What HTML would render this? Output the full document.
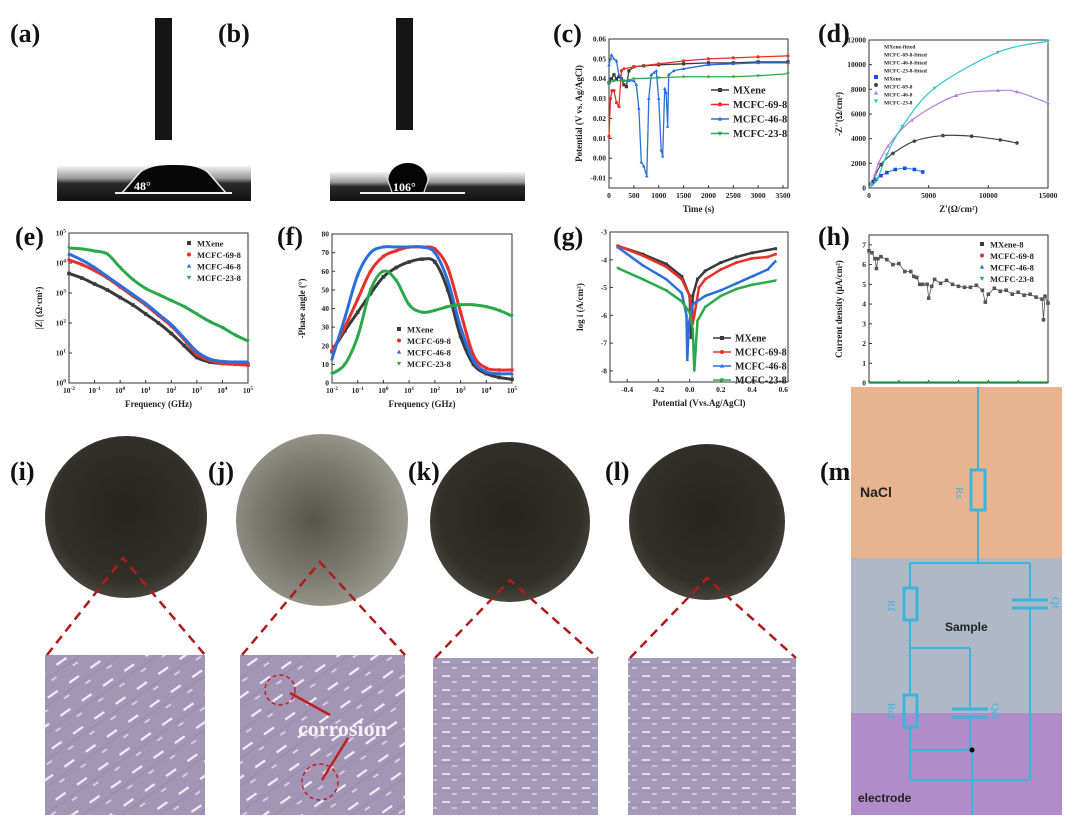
<!DOCTYPE html>
<html><head><meta charset="utf-8"><style>
html,body{margin:0;padding:0;background:#fff;}
svg{display:block;font-family:"Liberation Serif",serif;}
.pl{font:bold 26px "Liberation Serif",serif;fill:#111}
.tk{font:bold 7.5px "Liberation Serif",serif;fill:#222}
.at{font:bold 9px "Liberation Serif",serif;fill:#222}
</style></head><body>
<svg id="fig" width="1080" height="827" viewBox="0 0 1080 827">
<defs>
<pattern id="micro" width="26" height="22" patternUnits="userSpaceOnUse" patternTransform="rotate(-35)">
<rect width="26" height="22" fill="#a395b6"/>
<line x1="3" y1="5" x2="15" y2="5" stroke="#f4eefa" stroke-width="2.2"/>
<line x1="16" y1="15" x2="22" y2="15" stroke="#e6dcf0" stroke-width="1.5"/>
<line x1="0" y1="11" x2="26" y2="11" stroke="#978aa9" stroke-width="1"/>
</pattern>
<pattern id="micro2" width="20" height="14" patternUnits="userSpaceOnUse">
<rect width="20" height="14" fill="#a699b8"/>
<line x1="2" y1="4" x2="10" y2="4" stroke="#f4eefa" stroke-width="1.5"/>
<line x1="12" y1="10" x2="17" y2="10" stroke="#e6dcf0" stroke-width="1.2"/>
<line x1="0" y1="7" x2="20" y2="7" stroke="#9a8dab" stroke-width="0.8"/>
</pattern>
<radialGradient id="dark" cx="50%" cy="45%" r="55%"><stop offset="0" stop-color="#25251e"/><stop offset="0.8" stop-color="#303028"/><stop offset="1" stop-color="#45453c"/></radialGradient>
<radialGradient id="grey" cx="45%" cy="50%" r="55%"><stop offset="0" stop-color="#55554b"/><stop offset="0.6" stop-color="#7a7a70"/><stop offset="1" stop-color="#9a9a90"/></radialGradient>
<linearGradient id="strip" x1="0" y1="0" x2="0" y2="1"><stop offset="0" stop-color="#f4f4f4"/><stop offset="0.35" stop-color="#9a9a9a"/><stop offset="0.5" stop-color="#2a2a2a"/><stop offset="1" stop-color="#111"/></linearGradient>
</defs>

<text class="pl" x="10" y="42">(a)</text>
<text class="pl" x="218" y="42">(b)</text>
<text class="pl" x="553" y="42">(c)</text>
<text class="pl" x="818" y="42">(d)</text>
<text class="pl" x="15" y="245">(e)</text>
<text class="pl" x="277" y="245">(f)</text>
<text class="pl" x="553" y="245">(g)</text>
<text class="pl" x="818" y="245">(h)</text>
<text class="pl" x="10" y="480">(i)</text>
<text class="pl" x="208" y="480">(j)</text>
<text class="pl" x="408" y="480">(k)</text>
<text class="pl" x="605" y="480">(l)</text>
<text class="pl" x="820" y="480">(m)</text>

<g>
<rect x="155" y="18" width="17" height="122" fill="#151515"/>
<rect x="57" y="166" width="194" height="35" fill="url(#strip)"/>
<path d="M122,193 C140,168 150,165 174,165 C198,165 208,168 226,193 Z" fill="#080808"/>
<line x1="122" y1="193" x2="142" y2="170" stroke="#eee" stroke-width="1.5"/>
<line x1="226" y1="193" x2="206" y2="170" stroke="#eee" stroke-width="1.5"/>
<line x1="115" y1="193" x2="232" y2="193" stroke="#eee" stroke-width="2"/>
<text x="134" y="190" fill="#fff" font-size="12" font-weight="bold">48°</text>
</g>
<g>
<rect x="396" y="18" width="17" height="112" fill="#151515"/>
<rect x="330" y="172" width="195" height="29" fill="url(#strip)"/>
<path d="M392,192 C383,178 392,163 408,163 C424,163 432,178 424,192 Z" fill="#050505"/>
<line x1="392" y1="192" x2="386" y2="175" stroke="#ddd" stroke-width="1.2"/>
<line x1="424" y1="192" x2="430" y2="175" stroke="#ddd" stroke-width="1.2"/>
<line x1="360" y1="193" x2="465" y2="193" stroke="#eee" stroke-width="2"/>
<text x="393" y="191" fill="#fff" font-size="12" font-weight="bold">106°</text>
</g>

<g id="charts"></g>

<g>
<circle cx="126" cy="517" r="81" fill="url(#dark)"/>
<circle cx="322" cy="520" r="86" fill="url(#grey)"/>
<circle cx="510" cy="522" r="80" fill="url(#dark)"/>
<circle cx="707" cy="522" r="78" fill="url(#dark)"/>
<rect x="45" y="655" width="160" height="160" fill="url(#micro)"/>
<rect x="240" y="655" width="165" height="160" fill="url(#micro)"/>
<rect x="433" y="658" width="165" height="157" fill="url(#micro2)"/>
<rect x="628" y="658" width="168" height="157" fill="url(#micro2)"/>
<g stroke="#b01a1a" stroke-width="2.5" stroke-dasharray="9,6" fill="none">
<path d="M47,655 L123,558 L205,655"/>
<path d="M242,655 L320,562 L405,655"/>
<path d="M435,658 L510,580 L598,658"/>
<path d="M630,658 L707,578 L796,658"/>
</g>
<circle cx="280" cy="690" r="15" fill="none" stroke="#c02020" stroke-width="1.5" stroke-dasharray="4,3"/>
<circle cx="320" cy="782" r="18" fill="none" stroke="#c02020" stroke-width="1.5" stroke-dasharray="4,3"/>
<line x1="330" y1="715" x2="290" y2="693" stroke="#c02020" stroke-width="2.5"/>
<line x1="348" y1="738" x2="322" y2="780" stroke="#c02020" stroke-width="2.5"/>
<text x="298" y="736" fill="#f5f0f8" font-size="22" font-weight="bold">corrosion</text>
</g>

<g>
<rect x="851" y="387" width="211" height="171" fill="#e8b48f"/>
<rect x="851" y="558" width="211" height="155" fill="#aeb8c6"/>
<rect x="851" y="713" width="211" height="102" fill="#b08ccb"/>
<text x="860" y="497" font-family="Liberation Sans" font-weight="bold" font-size="14" fill="#222">NaCl</text>
<text x="945" y="631" font-family="Liberation Sans" font-weight="bold" font-size="12" fill="#222">Sample</text>
<text x="858" y="802" font-family="Liberation Sans" font-weight="bold" font-size="12" fill="#222">electrode</text>
<g stroke="#3bb5dc" stroke-width="2" fill="none">
<line x1="978" y1="387" x2="978" y2="470"/>
<rect x="971" y="470" width="14" height="40" stroke-width="3"/>
<line x1="978" y1="510" x2="978" y2="563"/>
<line x1="910" y1="563" x2="1030" y2="563"/>
<line x1="910" y1="563" x2="910" y2="588"/>
<rect x="904" y="588" width="13" height="32" stroke-width="3"/>
<line x1="910" y1="620" x2="910" y2="695"/>
<line x1="1030" y1="563" x2="1030" y2="598"/>
<line x1="1012" y1="600" x2="1048" y2="600" stroke-width="3"/>
<line x1="1012" y1="608" x2="1048" y2="608" stroke-width="3"/>
<line x1="1030" y1="608" x2="1030" y2="780"/>
<line x1="910" y1="648" x2="970" y2="648"/>
<line x1="970" y1="648" x2="970" y2="707"/>
<line x1="952" y1="709" x2="988" y2="709" stroke-width="3"/>
<line x1="952" y1="717" x2="988" y2="717" stroke-width="3"/>
<line x1="970" y1="717" x2="970" y2="750"/>
<rect x="904" y="695" width="13" height="32" stroke-width="3"/>
<line x1="910" y1="727" x2="910" y2="750"/>
<line x1="910" y1="750" x2="970" y2="750"/>
<line x1="910" y1="780" x2="1030" y2="780"/>
<line x1="910" y1="750" x2="910" y2="780"/>
<line x1="972" y1="750" x2="972" y2="815"/>
</g>
<circle cx="972" cy="750" r="2.5" fill="#000"/>
<text x="956" y="487" fill="#3bb5dc" font-size="11" transform="rotate(90 956 487)">Rs</text>
<text x="888" y="600" fill="#3bb5dc" font-size="11" transform="rotate(90 888 600)">Rf</text>
<text x="1052" y="597" fill="#3bb5dc" font-size="11" transform="rotate(90 1052 597)">Qf</text>
<text x="888" y="703" fill="#3bb5dc" font-size="11" transform="rotate(90 888 703)">Rct</text>
<text x="992" y="703" fill="#3bb5dc" font-size="11" transform="rotate(90 992 703)">Qdl</text>
</g>
</svg>
<script>
const names4 = ["MXene","MCFC-69-8","MCFC-46-8","MCFC-23-8"];
const cT_mx = [0,50,100,150,200,250,300,350,400,500,700,1000,1500,2000,2500,3000,3600];
const cV_mx = [0.038,0.04,0.042,0.04,0.041,0.04,0.037,0.036,0.044,0.046,0.0465,0.047,0.0475,0.048,0.048,0.0485,0.0485];
const cT_69 = [0,30,60,100,150,200,250,300,500,1000,1500,2000,2500,3000,3600];
const cV_69 = [0.011,0.03,0.034,0.034,0.028,0.026,0.044,0.045,0.046,0.0475,0.049,0.05,0.0505,0.051,0.0515];
const cT_46 = [0,50,100,150,200,250,300,400,500,550,600,650,700,760,800,850,900,950,1000,1050,1080,1120,1150,1180,1200,1300,1500,2000,2500,3000,3600];
const cV_46 = [0.047,0.052,0.05,0.049,0.042,0.04,0.039,0.039,0.039,0.037,0.025,-0.002,-0.004,-0.009,0.03,0.042,0.043,0.044,0.03,0.004,0.001,0.035,0.033,0.016,0.042,0.044,0.045,0.047,0.0475,0.048,0.048];
const cT_23 = [0,100,300,500,1000,1500,2000,2500,3000,3600];
const cV_23 = [0.038,0.039,0.039,0.04,0.0405,0.041,0.041,0.041,0.0415,0.0425];

const dX_mx=[200,600,1000,1500,2200,3000,3800,4500], dY_mx=[300,700,1000,1250,1500,1600,1500,1300];
const dX_69=[300,1000,2000,3800,6200,8600,11000,12400], dY_69=[500,1900,2800,3800,4250,4200,3900,3650];
const dX_46=[200,500,800,1600,3600,7300,10800,12400,15000], dY_46=[400,1100,2000,3400,5500,7500,7900,7800,6900];
const dX_23=[200,700,1500,2800,5500,10800,15000], dY_23=[200,700,2700,5000,8100,11000,11900];

const logF = [-2,-1.5,-1,-0.5,0,0.5,1,1.5,2,2.5,3,3.5,4,4.5,5];
const eZ_mx=[3.65,3.5,3.3,3.1,2.85,2.6,2.3,2.0,1.65,1.25,0.85,0.7,0.65,0.65,0.6];
const eZ_69=[4.1,3.95,3.75,3.5,3.2,2.9,2.6,2.25,1.9,1.45,0.95,0.75,0.65,0.62,0.6];
const eZ_46=[4.3,4.1,3.85,3.55,3.25,2.95,2.65,2.3,1.95,1.5,1.05,0.8,0.72,0.7,0.7];
const eZ_23=[4.5,4.47,4.4,4.3,3.85,3.45,3.15,2.95,2.75,2.55,2.3,2.05,1.85,1.6,1.4];
const fP_mx=[17,28,38,48,57,62,65,66.5,65,50,25,10,5,3,2];
const fP_69=[17,30,45,60,68,71,73,73,72,62,38,15,8,7,7];
const fP_46=[13,35,58,70,73,73,73,73,70,55,30,12,6,5,5];
const fP_23=[5,10,25,50,60,55,42,38,39,41,42,42,41,39,36];

const gE_mx=[-0.46,-0.3,-0.15,-0.05,0.0,0.01,0.02,0.05,0.1,0.2,0.3,0.4,0.55];
const gI_mx=[-3.5,-3.8,-4.15,-4.6,-5.3,-6.8,-5.3,-4.7,-4.4,-4.1,-3.9,-3.75,-3.6];
const gE_69=[-0.46,-0.3,-0.15,-0.05,0.0,0.02,0.03,0.06,0.1,0.2,0.3,0.4,0.5,0.55];
const gI_69=[-3.5,-3.85,-4.25,-4.7,-5.3,-6.3,-6.0,-5.0,-4.7,-4.35,-4.1,-3.95,-3.9,-3.8];
const gE_46=[-0.46,-0.3,-0.15,-0.05,-0.02,-0.015,-0.005,0.02,0.1,0.2,0.3,0.4,0.5,0.55];
const gI_46=[-3.55,-4.2,-4.7,-5.2,-6.0,-7.6,-6.3,-5.6,-5.3,-5.1,-4.85,-4.6,-4.35,-4.05];
const gE_23=[-0.46,-0.3,-0.15,-0.05,0.0,0.02,0.03,0.05,0.1,0.2,0.3,0.4,0.55];
const gI_23=[-4.3,-4.7,-5.1,-5.5,-5.9,-6.5,-8.0,-6.2,-5.7,-5.3,-5.05,-4.9,-4.75];

const hT_mx=[0,10,20,25,30,40,60,80,100,120,140,150,160,170,180,195,200,210,220,240,260,280,300,320,340,360,380,390,400,420,440,460,480,500,520,540,560,580,585,590,600];
const hI_mx=[6.7,6.6,6.3,5.8,6.3,6.4,6.25,6.0,6.05,5.65,5.65,5.4,5.35,5.0,5.0,5.0,4.3,4.9,5.25,5.05,5.2,5.0,4.9,4.85,4.85,4.95,4.7,4.1,4.5,4.8,4.65,4.7,4.5,4.6,4.45,4.5,4.35,4.25,3.2,4.4,4.05];
const hT_low=[0,100,200,300,400,500,600];
const hI_low=[0.05,0.05,0.05,0.05,0.05,0.05,0.05];

const cols=["#3a3a3a","#e8302a","#2a6fdb","#2aa84a"];
const shapes=["sq","ci","tu","td"];

let out="";
function mk(s,x,y,c,r){
  r=r||2.2;
  if(s==="sq") return `<rect x="${x-r}" y="${y-r}" width="${2*r}" height="${2*r}" fill="${c}"/>`;
  if(s==="ci") return `<circle cx="${x}" cy="${y}" r="${r}" fill="${c}"/>`;
  if(s==="tu") return `<path d="M${x},${y-r*1.2}L${x+r*1.1},${y+r*0.8}L${x-r*1.1},${y+r*0.8}Z" fill="${c}"/>`;
  return `<path d="M${x},${y+r*1.2}L${x+r*1.1},${y-r*0.8}L${x-r*1.1},${y-r*0.8}Z" fill="${c}"/>`;
}
function axes(name,b,xr,yr,xt,yt,xl,yl,xfmt,yfmt){
  const sx=v=>b.x+(v-xr[0])/(xr[1]-xr[0])*b.w;
  const sy=v=>b.y+b.h-(v-yr[0])/(yr[1]-yr[0])*b.h;
  let s=`<g><rect x="${b.x}" y="${b.y}" width="${b.w}" height="${b.h}" fill="none" stroke="#333" stroke-width="1"/>`;
  s+=`<g>`;
  xt.forEach(v=>{const X=sx(v);s+=`<line x1="${X}" y1="${b.y+b.h}" x2="${X}" y2="${b.y+b.h-3}" stroke="#333"/><text class="tk" x="${X}" y="${b.y+b.h+10}" text-anchor="middle">${xfmt(v)}</text>`;});
  s+=`</g><g>`;
  yt.forEach(v=>{const Y=sy(v);s+=`<line x1="${b.x}" y1="${Y}" x2="${b.x+3}" y2="${Y}" stroke="#333"/><text class="tk" x="${b.x-3}" y="${Y+2.5}" text-anchor="end">${yfmt(v)}</text>`;});
  s+=`</g><text class="at" x="${b.x+b.w/2}" y="${b.y+b.h+24}" text-anchor="middle">${xl}</text>`;
  s+=`<text class="at" transform="translate(${b.x-27},${b.y+b.h/2}) rotate(-90)" text-anchor="middle">${yl}</text></g>`;
  out+=s; return {sx,sy};
}
function smoothPath(P){
  let d=`M${P[0][0]},${P[0][1]}`;
  for(let i=0;i<P.length-1;i++){
    const p0=P[Math.max(0,i-1)],p1=P[i],p2=P[i+1],p3=P[Math.min(P.length-1,i+2)];
    d+=`C${p1[0]+(p2[0]-p0[0])/6},${p1[1]+(p2[1]-p0[1])/6} ${p2[0]-(p3[0]-p1[0])/6},${p2[1]-(p3[1]-p1[1])/6} ${p2[0]},${p2[1]}`;
  }
  return d;
}
function series(name,a,xs,ys,c,sh,line,lw,r,smooth){
  let s=`<g>`;
  if(line){
    const P=xs.map((v,i)=>[a.sx(v),a.sy(ys[i])]);
    if(smooth) s+=`<path fill="none" stroke="${c}" stroke-width="${lw||1.3}" d="${smoothPath(P)}"/>`;
    else s+=`<polyline fill="none" stroke="${c}" stroke-width="${lw||1.3}" points="${P.map(p=>p.join(',')).join(' ')}"/>`;
  }
  if(sh) xs.forEach((v,i)=>{s+=mk(sh,a.sx(v),a.sy(ys[i]),c,r);});
  out+=s+"</g>";
}
function legend(name,x,y,labels,colors,sh,dy,fs,lineLen){
  let s=`<g>`;
  labels.forEach((l,i)=>{const Y=y+i*dy;
    s+=`<g>`;
    if(lineLen) s+=`<line x1="${x}" y1="${Y}" x2="${x+lineLen}" y2="${Y}" stroke="${colors[i]}" stroke-width="1.5"/>`;
    if(sh[i]) s+=mk(sh[i],x+(lineLen?lineLen/2:4),Y,colors[i],2);
    s+=`<text x="${x+(lineLen||8)+4}" y="${Y+3.5}" font-weight="bold" font-size="${fs}" fill="#222">${l}</text></g>`;});
  out+=s+"</g>";
}
const sup=(b,e)=>`${b}<tspan dy="-3" font-size="5.5">${e}</tspan>`;

let a=axes("chart-c-ocp",{x:609,y:39,w:179,h:149},[0,3600],[-0.015,0.06],[0,500,1000,1500,2000,2500,3000,3500],[-0.01,0,0.01,0.02,0.03,0.04,0.05,0.06],"Time (s)","Potential (V vs. Ag/AgCl)",v=>v,v=>v.toFixed(2));
series("series-c-mxene",a,cT_mx,cV_mx,cols[0],"sq",true,1.3,1.6);
series("series-c-mcfc-69-8",a,cT_69,cV_69,cols[1],"ci",true,1.3,1.6);
series("series-c-mcfc-46-8",a,cT_46,cV_46,cols[2],"tu",true,1.3,1.6);
series("series-c-mcfc-23-8",a,cT_23,cV_23,cols[3],"td",true,1.3,1.6);
legend("legend-c",711,90,names4,cols,shapes,14.5,10.5,18);

a=axes("chart-d-nyquist",{x:869,y:40,w:179,h:148},[0,15000],[0,12000],[0,5000,10000,15000],[0,2000,4000,6000,8000,10000,12000],"Z'(Ω/cm²)","-Z''(Ω/cm²)",v=>v,v=>v);
series("fit-d-mxene",a,dX_mx,dY_mx,"#4a90e2",null,true,1.2,0,true);
series("fit-d-mcfc-69-8",a,dX_69,dY_69,"#444",null,true,1.2,0,true);
series("fit-d-mcfc-46-8",a,dX_46,dY_46,"#b67ee0",null,true,1.2,0,true);
series("fit-d-mcfc-23-8",a,dX_23,dY_23,"#2ec8c8",null,true,1.2,0,true);
series("points-d-mxene",a,dX_mx,dY_mx,"#1f4fe0","sq",false,1,1.8);
series("points-d-mcfc-69-8",a,dX_69,dY_69,"#444","ci",false,1,1.8);
series("points-d-mcfc-46-8",a,dX_46,dY_46,"#b67ee0","tu",false,1,1.8);
series("points-d-mcfc-23-8",a,dX_23,dY_23,"#2ec8c8","td",false,1,1.8);
legend("legend-d",872,45,["MXene-fitted","MCFC-69-8-fitted","MCFC-46-8-fitted","MCFC-23-8-fitted","MXene","MCFC-69-8","MCFC-46-8","MCFC-23-8"],["#4a90e2","#444","#b67ee0","#2ec8c8","#1f4fe0","#444","#b67ee0","#2ec8c8"],[null,null,null,null,"sq","ci","tu","td"],8,5.5,0);

a=axes("chart-e-bode-z",{x:69,y:233,w:179,h:150},[-2,5],[0,5],[-2,-1,0,1,2,3,4,5],[0,1,2,3,4,5],"Frequency (GHz)","|Z| (Ω·cm²)",v=>sup(10,v),v=>sup(10,v));
series("series-e-mxene",a,logF,eZ_mx,cols[0],"sq",true,3,1.8,true);
series("series-e-mcfc-69-8",a,logF,eZ_69,cols[1],"ci",true,3,1.8,true);
series("series-e-mcfc-46-8",a,logF,eZ_46,cols[2],"tu",true,3,1.8,true);
series("series-e-mcfc-23-8",a,logF,eZ_23,cols[3],"td",true,3,1.8,true);
legend("legend-e",185,243,names4,cols,shapes,11.5,8.5,0);

a=axes("chart-f-bode-phase",{x:332,y:234,w:180,h:149},[-2,5],[0,80],[-2,-1,0,1,2,3,4,5],[0,10,20,30,40,50,60,70,80],"Frequency (GHz)","-Phase angle (°)",v=>sup(10,v),v=>v);
series("series-f-mxene",a,logF,fP_mx,cols[0],"sq",true,3,1.8,true);
series("series-f-mcfc-69-8",a,logF,fP_69,cols[1],"ci",true,3,1.8,true);
series("series-f-mcfc-46-8",a,logF,fP_46,cols[2],"tu",true,3,1.8,true);
series("series-f-mcfc-23-8",a,logF,fP_23,cols[3],"td",true,3,1.8,true);
legend("legend-f",395,329,names4,cols,shapes,11.5,8.5,0);

a=axes("chart-g-tafel",{x:610,y:232,w:178,h:150},[-0.51,0.63],[-8.4,-3],[-0.4,-0.2,0,0.2,0.4,0.6],[-8,-7,-6,-5,-4,-3],"Potential (Vvs.Ag/AgCl)","log i (A/cm²)",v=>v.toFixed(1),v=>v);
series("series-g-mxene",a,gE_mx,gI_mx,cols[0],"sq",true,2.5,1.5);
series("series-g-mcfc-69-8",a,gE_69,gI_69,cols[1],"ci",true,2.5,1.5);
series("series-g-mcfc-46-8",a,gE_46,gI_46,cols[2],"tu",true,2.5,1.5);
series("series-g-mcfc-23-8",a,gE_23,gI_23,cols[3],"td",true,2.5,1.5);
legend("legend-g",713,338,names4,cols,shapes,14,10,18);

a=axes("chart-h-current",{x:869,y:235,w:179,h:148},[0,600],[0,7.5],[0,100,200,300,400,500,600],[0,1,2,3,4,5,6,7],"time (s)","Current density (μA/cm²)",v=>v,v=>v);
series("series-h-mxene-8",a,hT_mx,hI_mx,"#555","sq",true,0.8,1.8);
series("series-h-mcfc-69-8",a,hT_low,hI_low,cols[1],null,true,1);
series("series-h-mcfc-46-8",a,hT_low,hI_low,cols[2],null,true,1);
series("series-h-mcfc-23-8",a,hT_low,hI_low,cols[3],"td",true,1.2,1.4);
legend("legend-h",978,244,["MXene-8","MCFC-69-8","MCFC-46-8","MCFC-23-8"],cols,shapes,11.5,8.5,0);

document.getElementById("charts").innerHTML=out;
</script>
</body></html>
